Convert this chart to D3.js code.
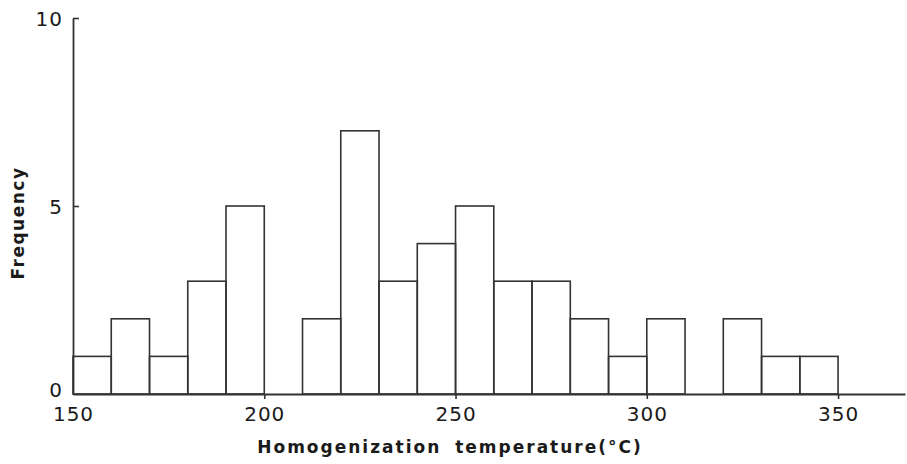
<!DOCTYPE html>
<html>
<head>
<meta charset="utf-8">
<script src="https://cdn.jsdelivr.net/npm/d3@7"></script>
<style>
  body { margin: 0; background: #fff; }
  text { font-family: "DejaVu Sans", sans-serif; fill: #1a1a1a; }
</style>
</head>
<body>
<div id="chart"></div>
<script>
// bin lower edges (°C) and counts
const binStarts = [150, 160, 170, 180, 190, 200, 210, 220, 230, 240, 250, 260, 270, 280, 290, 300, 310, 320, 330, 340];
const counts    = [1, 2, 1, 3, 5, 0, 2, 7, 3, 4, 5, 3, 3, 2, 1, 2, 0, 2, 1, 1];
const binWidth = 10;
const xTicks = [150, 200, 250, 300, 350];
const yTicks = [0, 5, 10];

const width = 907, height = 464;
const margin = {top: 18, right: 2, bottom: 70, left: 73};

const svg = d3.select("#chart")
    .append("svg")
    .attr("width", width)
    .attr("height", height);

const x = d3.scaleLinear()
    .domain([150, 367.5])
    .range([margin.left, width - margin.right]);

const y = d3.scaleLinear()
    .domain([0, 10])
    .range([height - margin.bottom, margin.top]);

const ink = "#333";

// bars
svg.append("g")
    .selectAll("rect")
    .data(binStarts.map((b, i) => ({b: b, n: counts[i]})).filter(d => d.n > 0))
    .join("rect")
    .attr("x", d => x(d.b))
    .attr("y", d => y(d.n))
    .attr("width", d => x(d.b + binWidth) - x(d.b))
    .attr("height", d => y(0) - y(d.n))
    .attr("fill", "none")
    .attr("stroke", ink)
    .attr("stroke-width", 1.6);

// x axis
const xAxis = svg.append("g")
    .attr("transform", `translate(0,${y(0)})`)
    .call(d3.axisBottom(x).tickValues(xTicks).tickSize(5).tickSizeOuter(0).tickFormat(d3.format("d")));
xAxis.select(".domain").attr("stroke", ink).attr("stroke-width", 1.8);
xAxis.selectAll(".tick line").attr("stroke", ink).attr("stroke-width", 1.6)
    .attr("opacity", d => d === 150 ? 0 : 1);
xAxis.selectAll(".tick text")
    .attr("dy", 0).attr("y", 27)
    .style("font-size", "20px")
    .style("letter-spacing", "1px");

// y axis
const yAxis = svg.append("g")
    .attr("transform", `translate(${x(150)},0)`)
    .call(d3.axisRight(y).tickValues(yTicks).tickSize(6).tickSizeOuter(0));
yAxis.select(".domain").attr("stroke", ink).attr("stroke-width", 1.8);
yAxis.selectAll(".tick line").attr("stroke", ink).attr("stroke-width", 1.6)
    .attr("opacity", d => d === 0 ? 0 : 1);
yAxis.selectAll(".tick text")
    .attr("x", -10)
    .attr("text-anchor", "end")
    .attr("dy", d => d === 0 ? "0.1em" : "0.35em")
    .style("font-size", "20px")
    .style("letter-spacing", "1px");

// axis titles
svg.append("text")
    .attr("x", 450)
    .attr("y", 453)
    .attr("text-anchor", "middle")
    .style("font-size", "17px")
    .style("font-weight", "bold")
    .style("letter-spacing", "2px")
    .style("word-spacing", "6px")
    .text("Homogenization temperature(°C)");

svg.append("text")
    .attr("transform", "translate(24,223) rotate(-90)")
    .attr("text-anchor", "middle")
    .style("font-size", "17px")
    .style("font-weight", "bold")
    .style("letter-spacing", "1.5px")
    .text("Frequency");
</script>
</body>
</html>
